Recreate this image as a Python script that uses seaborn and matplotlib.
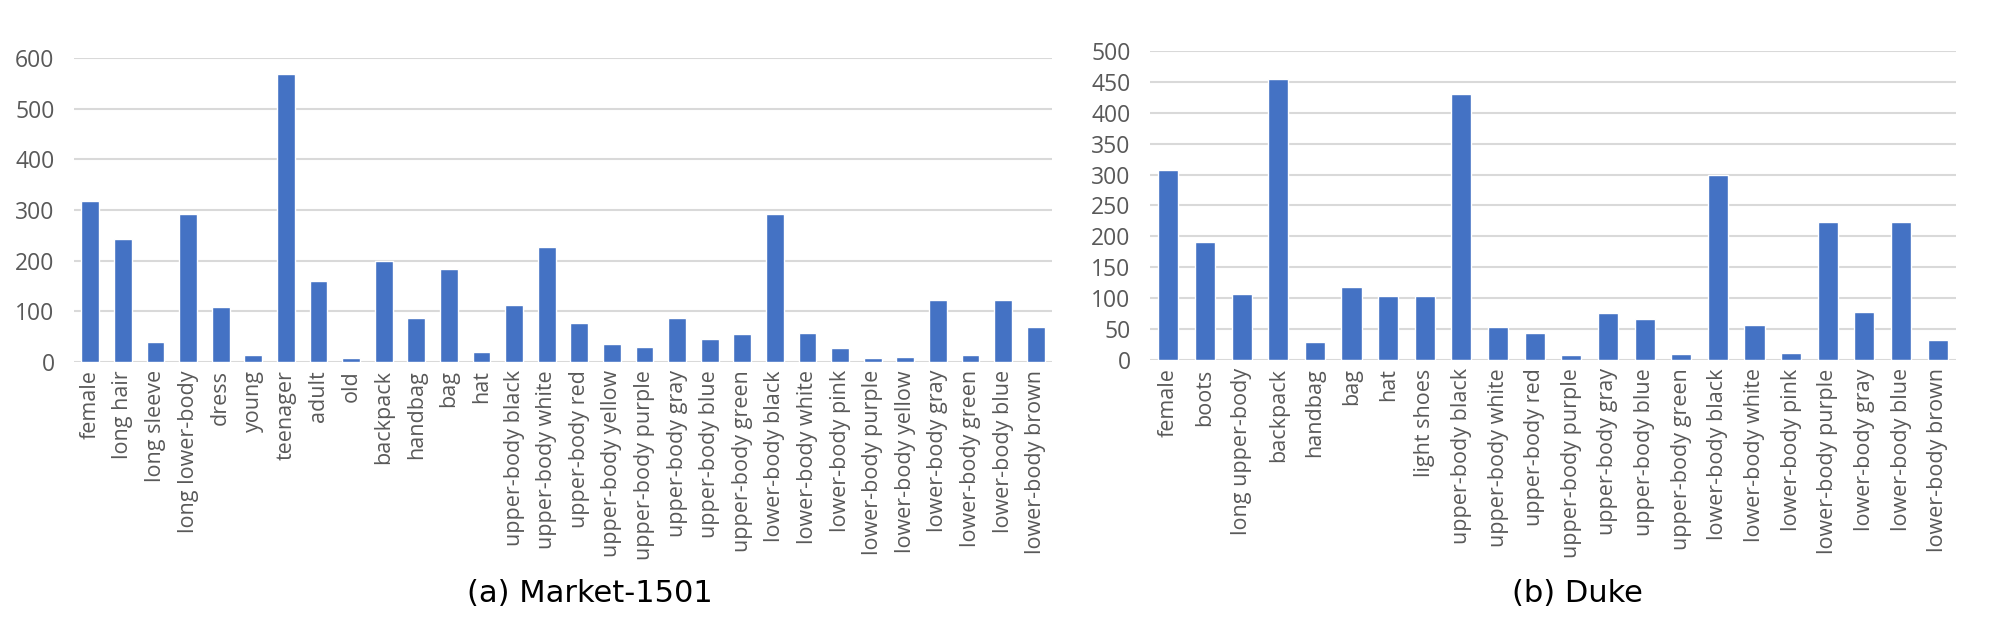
import matplotlib
matplotlib.use("Agg")
import matplotlib.pyplot as plt
import seaborn as sns

# Market-1501 attribute counts
market_attrs = ['female', 'long hair', 'long sleeve', 'long lower-body', 'dress', 'young',
                'teenager', 'adult', 'old', 'backpack', 'handbag', 'bag', 'hat',
                'upper-body black', 'upper-body white', 'upper-body red', 'upper-body yellow',
                'upper-body purple', 'upper-body gray', 'upper-body blue', 'upper-body green',
                'lower-body black', 'lower-body white', 'lower-body pink', 'lower-body purple',
                'lower-body yellow', 'lower-body gray', 'lower-body green', 'lower-body blue',
                'lower-body brown']
market_counts = [318, 243, 38, 293, 108, 13, 568, 159, 7, 199, 86, 184, 19,
                 112, 227, 76, 35, 29, 86, 45, 55,
                 292, 57, 28, 7, 9, 122, 13, 122, 68]

# Duke attribute counts
duke_attrs = ['female', 'boots', 'long upper-body', 'backpack', 'handbag', 'bag', 'hat',
              'light shoes', 'upper-body black', 'upper-body white', 'upper-body red',
              'upper-body purple', 'upper-body gray', 'upper-body blue', 'upper-body green',
              'lower-body black', 'lower-body white', 'lower-body pink', 'lower-body purple',
              'lower-body gray', 'lower-body blue', 'lower-body brown']
duke_counts = [307, 191, 107, 455, 29, 118, 104, 104, 430, 53, 44,
               8, 76, 66, 10, 299, 57, 11, 223, 77, 223, 32]

market_ticks = [0, 100, 200, 300, 400, 500, 600]
duke_ticks = [0, 50, 100, 150, 200, 250, 300, 350, 400, 450, 500]

sns.set_theme(style='white')
plt.rcParams['font.family'] = ['Open Sans', 'DejaVu Sans']

BAR = '#4472C4'
GRID = '#d9d9d9'
TXT = '#595959'

fig = plt.figure(figsize=(20, 6.23), dpi=100)
ax1 = fig.add_axes([0.037, 0.4194, 0.489, 0.487])
ax2 = fig.add_axes([0.575, 0.4222, 0.403, 0.4959])


def draw(ax, cats, vals, ticks):
    sns.barplot(x=cats, y=vals, color=BAR, width=0.55, saturation=1, ax=ax, zorder=3)
    ax.set_ylim(ticks[0], ticks[-1])
    ax.set_yticks(ticks)
    ax.set_xlim(-0.5, len(cats) - 0.5)
    for t in ticks:
        ax.axhline(t, color=GRID, lw=1.5, zorder=1)
    for s in ax.spines.values():
        s.set_visible(False)
    ax.tick_params(axis='y', labelsize=16.5, labelcolor=TXT, length=0, pad=14)
    ax.tick_params(axis='x', labelsize=15.5, labelcolor=TXT, length=0, pad=6, rotation=90)
    ax.set_xlabel('')
    ax.set_ylabel('')


draw(ax1, market_attrs, market_counts, market_ticks)
draw(ax2, duke_attrs, duke_counts, duke_ticks)

title_font = ['Liberation Sans Narrow', 'DejaVu Sans']
fig.text(0.295, 1 - 594 / 623, '(a) Market-1501', ha='center', va='center',
         fontsize=22, family=title_font, color='black')
fig.text(0.7885, 1 - 594 / 623, '(b) Duke', ha='center', va='center',
         fontsize=22, family=title_font, color='black')

fig.savefig('out.png', dpi=100)
